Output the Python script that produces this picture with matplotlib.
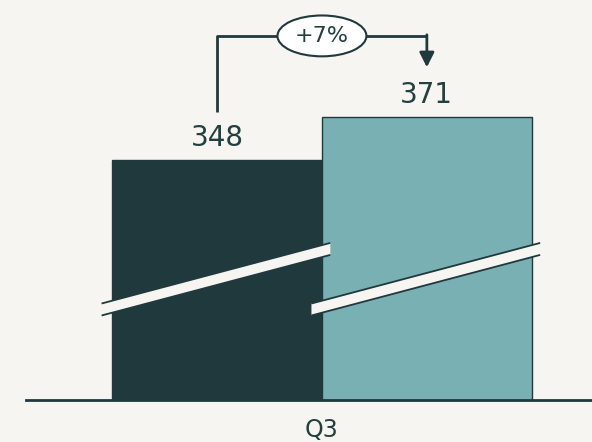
import matplotlib
matplotlib.use("Agg")
import matplotlib.pyplot as plt
from matplotlib.patches import Polygon

# data
categories = ["Q3"]
series = ["Prior", "Current"]
values = [348, 371]
change_label = "+7%"

bg = "#f7f5f1"
dark = "#20393c"
teal = "#79b0b3"
txt = "#22403f"
bar_colors = [dark, teal]

plt.rcParams['font.family'] = ['DejaVu Sans']

fig = plt.figure(figsize=(5.92, 4.42), dpi=100)
fig.patch.set_facecolor(bg)
ax = fig.add_axes([0.044, 0.095, 0.956, 0.905])
ax.set_facecolor(bg)

# truncated value axis (shown with break marks)
ymin, ymax = 219.6, 433.5
ax.set_ylim(ymin, ymax)
ax.set_xlim(-1.41, 1.287)

lefts = [-1.0, 0.0]
for i, v in enumerate(values):
    ax.bar(lefts[i], v, width=1.0, align='edge', color=bar_colors[i],
           edgecolor=dark, linewidth=1, zorder=2)
    ax.text(lefts[i] + 0.5, v + 11.7, str(v), ha='center', va='center',
            fontsize=20, color=txt, zorder=5)

# axis-break bands
brk_lo, brk_hi, brk_h = 268, 300.4, 6.4
for i in range(len(values)):
    x0, x1 = lefts[i] - 0.05, lefts[i] + 1.04
    poly = Polygon([(x0, brk_lo - brk_h / 2), (x1, brk_hi - brk_h / 2),
                    (x1, brk_hi + brk_h / 2), (x0, brk_lo + brk_h / 2)],
                   closed=True, facecolor=bg, edgecolor='none', zorder=3 + i)
    ax.add_patch(poly)
    for s in (-1, 1):
        ax.plot([x0, x1], [brk_lo + s * brk_h / 2, brk_hi + s * brk_h / 2],
                color=dark, lw=1.3, zorder=3 + i, solid_capstyle='butt')

# change bracket
top = 414.3
ax.plot([-0.5, -0.5, 0.5], [values[0] + 25.6, top, top], color=dark, lw=2,
        clip_on=False, zorder=4, solid_capstyle='butt')
ax.annotate("", xy=(0.5, values[1] + 26.5), xytext=(0.5, top + 0.6),
            arrowprops=dict(arrowstyle='-|>', color=dark, lw=2,
                            mutation_scale=22, shrinkA=0, shrinkB=0),
            annotation_clip=False, zorder=4)
ax.text(0.0, top, change_label, ha='center', va='center', fontsize=16,
        color=txt, zorder=6,
        bbox=dict(boxstyle='ellipse,pad=0.2', fc='white', ec=dark, lw=1.5))

ax.set_xticks([0.0])
ax.set_xticklabels(categories, fontsize=17, color=txt)
ax.tick_params(axis='x', length=0, pad=13)
ax.set_yticks([])
for side in ('top', 'right', 'left'):
    ax.spines[side].set_visible(False)
ax.spines['bottom'].set_color(dark)
ax.spines['bottom'].set_linewidth(2)

plt.savefig('out.png', dpi=100, facecolor=bg)
